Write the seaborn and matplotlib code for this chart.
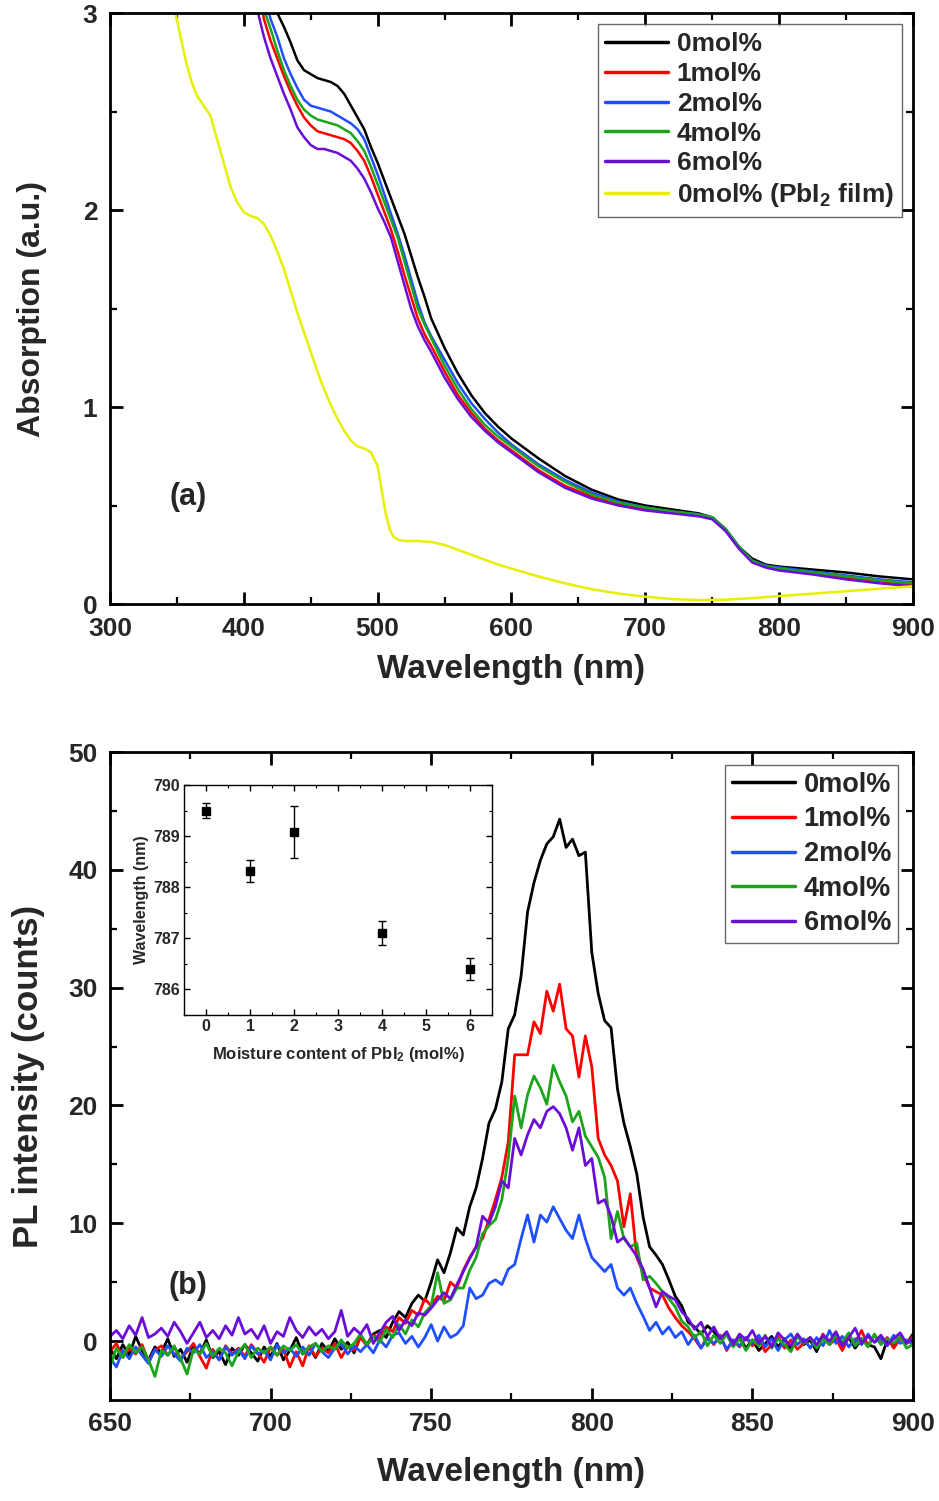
import numpy as np
import pandas as pd
import matplotlib
matplotlib.use("Agg")
import matplotlib.pyplot as plt
import seaborn as sns

sns.set_style("ticks")
plt.rcParams['font.family'] = ['Liberation Sans', 'DejaVu Sans']
plt.rcParams['font.weight'] = 'bold'
plt.rcParams['axes.labelweight'] = 'bold'
plt.rcParams['mathtext.fontset'] = 'custom'
plt.rcParams['mathtext.rm'] = 'Liberation Sans:bold'
plt.rcParams['mathtext.bf'] = 'Liberation Sans:bold'
plt.rcParams['mathtext.default'] = 'bf'

# ---------------- (a) absorption ----------------
abs_nm = [410, 415, 420, 425, 430, 435, 440, 445, 450, 455, 460, 465, 470, 475,
          480, 485, 490, 495, 500, 505, 510, 515, 520, 525, 530, 535, 540,
          550, 560, 570, 580, 590, 600, 620, 640, 660, 680, 700, 720, 740,
          750, 760, 770, 780, 790, 800, 825, 850, 875, 900]
abs_0 = [3.45, 3.28, 3.12, 3.00, 2.93, 2.85, 2.76, 2.71, 2.69, 2.67, 2.66, 2.65, 2.63, 2.59,
         2.53, 2.47, 2.41, 2.32, 2.24, 2.15, 2.06, 1.97, 1.88, 1.77, 1.66, 1.56, 1.45,
         1.30, 1.17, 1.06, 0.97, 0.90, 0.84, 0.74, 0.65, 0.58, 0.53, 0.50, 0.48, 0.46,
         0.44, 0.38, 0.29, 0.23, 0.20, 0.19, 0.175, 0.16, 0.14, 0.125]
abs_1 = [3.20, 2.97, 2.86, 2.77, 2.68, 2.60, 2.53, 2.47, 2.43, 2.40, 2.39, 2.38, 2.37, 2.36,
         2.34, 2.30, 2.25, 2.17, 2.08, 1.99, 1.90, 1.79, 1.67, 1.56, 1.45, 1.37, 1.31,
         1.18, 1.06, 0.97, 0.89, 0.83, 0.78, 0.68, 0.60, 0.545, 0.505, 0.48, 0.465, 0.45,
         0.435, 0.375, 0.285, 0.215, 0.19, 0.175, 0.155, 0.135, 0.115, 0.10]
abs_2 = [3.30, 3.10, 2.97, 2.88, 2.77, 2.69, 2.62, 2.56, 2.53, 2.52, 2.51, 2.50, 2.48, 2.46,
         2.44, 2.41, 2.36, 2.27, 2.18, 2.08, 1.98, 1.88, 1.77, 1.65, 1.53, 1.43, 1.36,
         1.24, 1.12, 1.02, 0.94, 0.87, 0.81, 0.71, 0.63, 0.565, 0.52, 0.49, 0.47, 0.455,
         0.44, 0.38, 0.29, 0.22, 0.195, 0.185, 0.165, 0.145, 0.125, 0.11]
abs_4 = [3.25, 3.02, 2.92, 2.81, 2.71, 2.63, 2.56, 2.51, 2.48, 2.46, 2.45, 2.44, 2.43, 2.41,
         2.39, 2.35, 2.30, 2.22, 2.13, 2.04, 1.95, 1.86, 1.74, 1.62, 1.50, 1.42, 1.35,
         1.21, 1.09, 0.99, 0.91, 0.85, 0.80, 0.70, 0.62, 0.555, 0.515, 0.49, 0.47, 0.455,
         0.44, 0.38, 0.29, 0.22, 0.19, 0.18, 0.16, 0.14, 0.12, 0.105]
abs_6 = [3.02, 2.88, 2.77, 2.68, 2.59, 2.51, 2.42, 2.37, 2.33, 2.31, 2.31, 2.30, 2.29, 2.27,
         2.25, 2.21, 2.16, 2.09, 2.01, 1.94, 1.86, 1.74, 1.62, 1.50, 1.41, 1.34, 1.28,
         1.15, 1.04, 0.95, 0.88, 0.82, 0.77, 0.67, 0.59, 0.535, 0.50, 0.475, 0.46, 0.445,
         0.43, 0.37, 0.28, 0.21, 0.185, 0.17, 0.15, 0.125, 0.105, 0.09]

pbi2_nm = [345, 349, 353, 357, 361, 365, 370, 375, 380, 385, 390, 395, 400, 405, 410,
           415, 420, 425, 430, 435, 440, 445, 450, 455, 460, 465, 470, 475, 480, 485,
           490, 495, 500, 503, 506, 509, 512, 516, 520, 530, 540, 550, 560, 570, 580,
           590, 600, 620, 640, 660, 680, 700, 720, 740, 760, 780, 800, 820, 840, 860,
           880, 900]
pbi2_abs = [3.20, 3.00, 2.87, 2.75, 2.65, 2.58, 2.53, 2.48, 2.36, 2.24, 2.12, 2.04, 1.99, 1.97, 1.96,
            1.93, 1.87, 1.79, 1.70, 1.59, 1.48, 1.38, 1.28, 1.18, 1.09, 1.01, 0.94, 0.88, 0.83, 0.80,
            0.79, 0.77, 0.70, 0.58, 0.46, 0.38, 0.34, 0.325, 0.32, 0.32, 0.315, 0.30, 0.275, 0.25, 0.225,
            0.20, 0.18, 0.14, 0.105, 0.075, 0.053, 0.037, 0.025, 0.02, 0.022, 0.03, 0.04, 0.05, 0.06, 0.07,
            0.08, 0.09]

labels_a = ['0mol%', '1mol%', '2mol%', '4mol%', '6mol%', '0mol% (PbI$_2$ film)']
colors_a = ['#000000', '#ff0000', '#1f4fff', '#1aa51a', '#6a0dd9', '#e6f000']

# ---------------- (b) photoluminescence ----------------
pl_nm = np.arange(650, 901, 2)
pl_0 = [-0.6, -1.5, -0.3, -1.2, 0.4, -0.8, -1.6, -0.5, -1.0, 0.2,
        -1.3, -0.7, -1.8, -0.4, -1.1, 0.1, -1.4, -0.9, -2.0, -0.6,
        -1.2, -0.3, -1.0, -1.7, -0.5, -1.3, -0.2, -1.6, -0.8, 0.3,
        -1.1, -0.5, -1.4, -0.2, -0.9, 0.2, -0.7, -0.1, -1.0, 0.4,
        -0.3, 0.6, 0.9, 0.3, 1.6, 2.5, 2.0, 3.2, 3.9, 3.4,
        5.0, 6.9, 5.8, 7.5, 9.6, 9.0, 11.4, 13.0, 15.5, 18.5,
        19.7, 22.0, 26.5, 27.7, 31.0, 36.4, 38.9, 40.8, 42.2, 42.8,
        44.3, 41.9, 42.6, 41.2, 41.5, 33.0, 29.5, 27.2, 26.6, 21.4,
        18.5, 16.5, 14.2, 10.5, 8.0, 7.3, 6.5, 5.2, 3.8, 3.0,
        1.6, 1.2, 0.6, 1.3, 0.8, 0.2, 0.6, -0.4, 0.3, -0.6,
        0.1, -0.8, -0.2, 0.4, -0.5, 0.2, -0.7, 0.5, -0.3, 0.1,
        -0.9, 0.4, -0.2, 0.7, -0.4, 0.3, -0.6, 0.2, -0.3, -0.5,
        -1.5, 0.1, -0.4, 0.3, -0.2, 0.6]
pl_1 = [-0.9, -0.2, -1.4, -0.6, -1.1, -0.3, -1.7, -0.8, -0.4, -1.2,
        -0.5, -1.5, -0.9, -0.2, -1.3, -2.3, -0.7, -1.6, -0.4, -1.1,
        -0.6, -1.3, -0.3, -1.0, -1.8, -0.5, -1.2, -0.7, -2.2, -0.9,
        -2.1, -0.4, -1.3, -0.6, -1.0, -0.2, -1.4, -0.5, -0.8, 0.3,
        -0.4, 0.5, 0.2, 1.2, 0.8, 2.0, 1.5, 2.6, 2.2, 3.6,
        3.0, 3.8, 3.4, 5.0, 4.5, 6.0, 7.1, 8.0, 8.7, 10.3,
        12.0, 13.9, 16.9, 24.3, 24.3, 24.3, 27.1, 26.1, 29.7, 28.0,
        30.3, 26.5, 25.9, 22.4, 25.9, 23.3, 17.2, 15.8, 14.9, 13.6,
        9.7, 12.5, 7.1, 5.8, 4.5, 4.2, 3.9, 2.8, 2.0, 1.3,
        0.8, 0.2, -0.6, 0.4, -0.3, 0.5, -0.8, 0.1, -0.5, 0.3,
        -0.4, 0.2, -0.9, -0.3, 0.4, -0.6, 0.1, -0.7, -0.2, 0.3,
        -0.5, 0.6, -0.3, 0.2, -0.8, 0.4, -0.1, 0.9, -0.4, 0.5,
        -0.2, 0.3, -0.6, 0.2, -0.1, 0.4]
pl_2 = [-1.4, -2.2, -0.8, -1.5, -0.5, -1.2, -1.9, -0.7, -1.3, -0.4,
        -1.1, -1.7, -0.6, -1.0, -0.3, -1.4, -0.9, -1.6, -0.5, -1.2,
        -0.7, -1.5, -0.4, -1.1, -0.8, -1.6, -0.3, -1.0, -0.6, -1.3,
        -0.5, -1.2, -0.2, -0.9, -1.4, -0.6, -0.2, -1.1, -0.4, -0.9,
        -0.3, -1.0, 0.1, -0.5, 0.5, 0.7, -0.2, 0.4, -0.5, 0.3,
        1.4, 0.0, 1.2, 0.3, 0.6, 1.3, 4.5, 3.6, 3.9, 4.9,
        5.2, 4.8, 6.1, 6.5, 8.7, 10.7, 8.4, 10.7, 10.1, 11.4,
        10.4, 9.4, 8.7, 10.7, 8.7, 7.1, 6.5, 5.9, 6.5, 4.5,
        3.9, 4.5, 3.2, 2.1, 0.9, 1.6, 0.6, 1.2, 0.3, 0.8,
        -0.3, 0.5, -0.6, 0.2, -0.2, 0.4, -0.7, 0.1, -0.4, 0.3,
        -0.2, 0.5, -0.5, 0.2, -0.8, 0.1, 0.6, -0.3, 0.2, -0.6,
        0.3, -0.4, 0.9, -0.2, 0.4, -0.5, 0.2, -0.3, 0.6, -0.1,
        0.2, -0.4, 0.5, -0.2, 0.1, -0.3]
pl_4 = [-2.2, -0.6, -1.4, -0.3, -1.0, -0.5, -1.6, -3.0, -0.8, -1.2,
        -0.4, -1.5, -2.8, -0.7, -1.1, -0.2, -1.3, -0.6, -1.0, -2.1,
        -0.9, -0.3, -1.4, -0.6, -1.0, -0.5, -1.2, -0.4, -0.8, -0.3,
        -1.1, -0.5, -0.2, -0.9, -0.4, -0.7, 0.1, -0.6, -0.2, 0.6,
        -0.3, 0.4, -0.1, 1.0, 0.3, 1.4, 0.6, 1.8, 1.2, 2.4,
        3.0, 5.8, 3.2, 3.5, 4.5, 4.5, 6.0, 7.1, 9.1, 9.8,
        10.3, 12.0, 15.5, 20.8, 18.1, 20.9, 22.5, 21.5, 20.1, 23.4,
        22.0, 20.8, 18.6, 19.5, 17.4, 16.5, 15.6, 13.9, 8.7, 11.0,
        8.7, 8.0, 8.3, 5.2, 5.5, 4.9, 4.2, 3.6, 2.9, 1.7,
        1.2, 0.3, 0.8, -0.4, 0.5, -0.2, 0.6, -0.5, 0.2, -0.8,
        0.1, -0.4, 0.5, -0.6, 0.2, -0.3, -0.9, 0.4, -0.2, 0.3,
        -0.6, 0.2, -0.3, 0.5, -0.1, 0.7, -0.4, 0.2, -0.5, 0.6,
        -0.3, 0.2, -0.2, 0.4, -0.6, -0.3]
pl_6 = [0.4, 0.9, 0.2, 1.3, 0.5, 2.0, 0.3, 0.6, 1.1, 0.4,
        1.6, 0.8, -0.2, 0.7, 1.6, 0.3, 0.9, 0.2, 1.3, 0.5,
        2.0, 0.6, 1.0, 0.2, 1.3, -0.2, 0.8, 0.4, 2.0, 0.9,
        0.3, 1.2, 0.5, 1.0, 0.2, 0.8, 2.6, 0.4, 1.1, 0.6,
        1.4, -0.2, 0.7, 1.6, 2.1, 0.9, 1.8, 1.3, 2.4, 2.2,
        2.8, 3.5, 4.1, 3.6, 4.8, 5.9, 7.0, 8.0, 10.6, 10.0,
        11.4, 13.6, 13.0, 17.2, 15.8, 17.5, 18.8, 18.1, 19.5, 19.9,
        19.3, 18.1, 16.2, 18.1, 14.9, 15.5, 11.7, 12.0, 10.6, 8.4,
        8.8, 8.0, 7.2, 6.1, 4.5, 2.9, 4.2, 3.8, 3.5, 2.5,
        1.9, 1.0, 1.6, 0.4, 1.2, 0.2, 0.8, -0.3, 0.6, 0.1,
        0.9, -0.2, 0.4, -0.5, 0.7, 0.1, -0.4, 0.6, -0.1, 0.3,
        -0.3, 0.5, 0.0, 0.8, -0.4, 0.3, 1.1, -0.2, 0.4, -0.1,
        0.5, -0.3, 0.2, 0.7, -0.2, 0.3]

labels_b = ['0mol%', '1mol%', '2mol%', '4mol%', '6mol%']
colors_b = ['#000000', '#ff0000', '#1f4fff', '#1aa51a', '#6a0dd9']

# inset: PL peak position vs moisture content
moisture = [0, 1, 2, 4, 6]
peak_nm = [789.50, 788.32, 789.08, 787.10, 786.40]
peak_err = [0.15, 0.21, 0.50, 0.24, 0.22]

fig = plt.figure(figsize=(9.39, 15.01), dpi=100)
ax1 = fig.add_axes([0.1171, 0.5976, 0.8552, 0.3937])
ax2 = fig.add_axes([0.1171, 0.0673, 0.8552, 0.4317])
axin = fig.add_axes([0.196, 0.3238, 0.328, 0.1532])

def style_axes(ax, lw=2.0, maj=9, mnr=5, size=19, pad=9):
    for s in ax.spines.values():
        s.set_linewidth(lw)
        s.set_color('black')
    ax.tick_params(which='both', direction='in', top=True, right=True,
                   color='black', labelsize=size, pad=pad)
    ax.tick_params(which='major', length=maj, width=lw)
    ax.tick_params(which='minor', length=mnr, width=lw * 0.8)
    for t in ax.get_xticklabels() + ax.get_yticklabels():
        t.set_fontweight('bold')

# (a)
series_a = [abs_0, abs_1, abs_2, abs_4, abs_6]
for vals, lab, col in zip(series_a, labels_a[:5], colors_a[:5]):
    sns.lineplot(x=abs_nm, y=vals, color=col, lw=1.8, label=lab, ax=ax1)
sns.lineplot(x=pbi2_nm, y=pbi2_abs, color=colors_a[5], lw=1.8, label=labels_a[5], ax=ax1)
ax1.set_xlim(300, 900)
ax1.set_ylim(0, 3)
ax1.set_xticks([300, 400, 500, 600, 700, 800, 900])
ax1.set_xticks(np.arange(350, 900, 100), minor=True)
ax1.set_yticks([0, 1, 2, 3])
ax1.set_yticks([0.5, 1.5, 2.5], minor=True)
style_axes(ax1)
ax1.set_xlabel('Wavelength (nm)', fontsize=24, fontweight='bold')
ax1.set_ylabel('Absorption (a.u.)', fontsize=23, fontweight='bold')
ax1.xaxis.set_label_coords(0.5, -0.085)
ax1.yaxis.set_label_coords(-0.078, 0.5)
ax1.text(0.097, 0.181, '(a)', transform=ax1.transAxes, fontsize=22,
         fontweight='bold', ha='center', va='center')
leg1 = ax1.legend(loc='upper right', bbox_to_anchor=(0.986, 0.981), borderaxespad=0,
                  fontsize=19, frameon=True, fancybox=False, edgecolor='#444444',
                  handlelength=2.35, handletextpad=0.35, labelspacing=0.22,
                  borderpad=0.3)
leg1.get_frame().set_linewidth(1.0)
for h in leg1.get_lines():
    h.set_linewidth(2.5)

# (b)
series_b = [pl_0, pl_1, pl_2, pl_4, pl_6]
for vals, lab, col in zip(series_b, labels_b, colors_b):
    sns.lineplot(x=pl_nm, y=vals, color=col, lw=2.0, label=lab, ax=ax2)
ax2.set_xlim(650, 900)
ax2.set_ylim(-5, 50)
ax2.set_xticks(np.arange(650, 901, 50))
ax2.set_xticks(np.arange(675, 900, 50), minor=True)
ax2.set_yticks(np.arange(0, 51, 10))
ax2.set_yticks(np.arange(5, 50, 10), minor=True)
style_axes(ax2)
ax2.set_xlabel('Wavelength (nm)', fontsize=24, fontweight='bold')
ax2.set_ylabel('PL intensity (counts)', fontsize=25, fontweight='bold')
ax2.xaxis.set_label_coords(0.5, -0.088)
ax2.yaxis.set_label_coords(-0.081, 0.5)
ax2.text(0.097, 0.176, '(b)', transform=ax2.transAxes, fontsize=22,
         fontweight='bold', ha='center', va='center')
leg2 = ax2.legend(loc='upper right', bbox_to_anchor=(0.981, 0.980), borderaxespad=0,
                  fontsize=19.5, frameon=True, fancybox=False, edgecolor='#444444',
                  handlelength=2.35, handletextpad=0.3, labelspacing=0.32,
                  borderpad=0.25)
leg2.get_frame().set_linewidth(1.0)
for h in leg2.get_lines():
    h.set_linewidth(2.5)

# inset
axin.errorbar(moisture, peak_nm, yerr=peak_err, fmt='s', color='black',
              markersize=6, capsize=3, elinewidth=1.0, capthick=1.0)
axin.set_xlim(-0.5, 6.5)
axin.set_ylim(785.5, 790)
axin.set_xticks(range(0, 7))
axin.set_xticks(np.arange(0.5, 6.5, 1), minor=True)
axin.set_yticks([786, 787, 788, 789, 790])
axin.set_yticks(np.arange(785.5, 790, 1), minor=True)
style_axes(axin, lw=1.0, maj=4, mnr=2.5, size=11.5, pad=3)
axin.set_xlabel('Moisture content of PbI$_2$ (mol%)', fontsize=12, fontweight='bold')
axin.set_ylabel('Wavelength (nm)', fontsize=11.5, fontweight='bold')
axin.xaxis.set_label_coords(0.5, -0.13)
axin.yaxis.set_label_coords(-0.115, 0.5)

fig.savefig('out.png', dpi=100)
